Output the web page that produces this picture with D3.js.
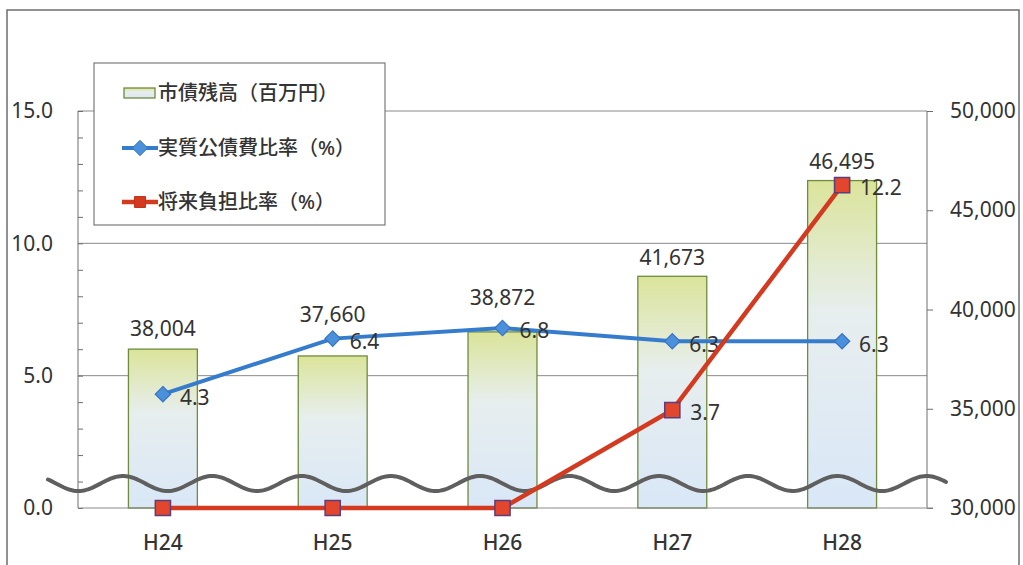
<!DOCTYPE html>
<html>
<head>
<meta charset="utf-8">
<script src="https://cdn.jsdelivr.net/npm/d3@7"></script>
<style>
  html, body { margin: 0; padding: 0; background: #fff; }
  svg text { font-family: "Noto Sans", "Noto Sans CJK JP", sans-serif; fill: #333; }
</style>
</head>
<body>
<svg id="chart" width="1023" height="565"></svg>
<script>
// chart data
const categories = ["H24", "H25", "H26", "H27", "H28"];
const debtBalance = [38004, 37660, 38872, 41673, 46495];       // 市債残高（百万円）
const debtServiceRatio = [4.3, 6.4, 6.8, 6.3, 6.3];             // 実質公債費比率（%）
const futureBurdenRatio = [0, 0, 0, 3.7, 12.2];                 // 将来負担比率（%）
const leftTicks = [0, 5, 10, 15];
const leftMinorTicks = d3.range(0, 16);
const rightTicks = [30000, 35000, 40000, 45000, 50000];
const legendLabels = ["市債残高（百万円）", "実質公債費比率（%）", "将来負担比率（%）"];

// label lift above the bar tops (excel moved them around a bit)
const barLabelLift = [20, 41, 34, 19, 19];

const svg = d3.select("#chart");
const plot = {left: 78, right: 927, top: 111, bottom: 508};

const x = d3.scaleBand()
  .domain(categories)
  .range([plot.left, plot.right])
  .paddingInner(0.594)
  .paddingOuter(0.297);

const yLeft = d3.scaleLinear().domain([0, 15]).range([plot.bottom, plot.top]);
const yRight = d3.scaleLinear().domain([30000, 50000]).range([plot.bottom, plot.top]);

// outer frame
svg.append("rect")
  .attr("x", 7).attr("y", 10)
  .attr("width", 1012).attr("height", 620)
  .attr("fill", "#fff")
  .attr("stroke", "#6e6e6e")
  .attr("stroke-width", 1.5);

const defs = svg.append("defs");
const grad = defs.append("linearGradient")
  .attr("id", "barFill")
  .attr("x1", 0).attr("y1", 0).attr("x2", 0).attr("y2", 1);
grad.append("stop").attr("offset", "0%").attr("stop-color", "#dbe49a");
grad.append("stop").attr("offset", "40%").attr("stop-color", "#e7eeee");
grad.append("stop").attr("offset", "100%").attr("stop-color", "#d9e7f7");

// gridlines
svg.append("g")
  .selectAll("line")
  .data(leftTicks.filter(d => d > 0))
  .join("line")
  .attr("x1", plot.left).attr("x2", plot.right)
  .attr("y1", d => yLeft(d)).attr("y2", d => yLeft(d))
  .attr("stroke", "#8a8a8a")
  .attr("stroke-width", 1);

// left axis: minor ticks inside, labels outside
svg.append("g")
  .attr("transform", `translate(${plot.left},0)`)
  .call(d3.axisRight(yLeft).tickValues(leftMinorTicks).tickSize(5).tickFormat(""))
  .call(g => g.selectAll("line, path").attr("stroke", "#6e6e6e"))
  .call(g => g.select(".domain").attr("d", `M0,${plot.top}V${plot.bottom}`));

svg.append("g")
  .attr("transform", `translate(${plot.left},0)`)
  .call(d3.axisLeft(yLeft).tickValues(leftTicks).tickSize(0).tickPadding(25).tickFormat(d3.format(".1f")))
  .call(g => g.select(".domain").remove())
  .call(g => g.selectAll("text").attr("font-size", 21).attr("fill", "#333"));

// right axis
svg.append("g")
  .attr("transform", `translate(${plot.right},0)`)
  .call(d3.axisRight(yRight).tickValues(rightTicks).tickSize(6).tickPadding(17).tickFormat(d3.format(",")))
  .call(g => g.selectAll("line, path").attr("stroke", "#6e6e6e"))
  .call(g => g.select(".domain").attr("d", `M0,${plot.top}V${plot.bottom}`))
  .call(g => g.selectAll("text").attr("font-size", 21).attr("fill", "#333"));

// bars
const bars = debtBalance.map((v, i) => ({cat: categories[i], v, lift: barLabelLift[i]}));

svg.append("g")
  .selectAll("rect")
  .data(bars)
  .join("rect")
  .attr("x", d => x(d.cat))
  .attr("y", d => yRight(d.v))
  .attr("width", x.bandwidth())
  .attr("height", d => plot.bottom - yRight(d.v))
  .attr("fill", "url(#barFill)")
  .attr("stroke", "#6f8b3c")
  .attr("stroke-width", 1.3);

svg.append("g")
  .selectAll("text")
  .data(bars)
  .join("text")
  .attr("x", d => x(d.cat) + x.bandwidth() / 2)
  .attr("y", d => yRight(d.v) - d.lift)
  .attr("dy", "0.35em")
  .attr("text-anchor", "middle")
  .attr("font-size", 21)
  .text(d => d3.format(",")(d.v));

// bottom axis
svg.append("g")
  .attr("transform", `translate(0,${plot.bottom})`)
  .call(d3.axisBottom(x).tickSize(0).tickPadding(27))
  .call(g => g.select(".domain").attr("stroke", "#8a8a8a").attr("d", `M${plot.left},0H${plot.right + 6}`))
  .call(g => g.selectAll("text").attr("font-size", 21).attr("font-weight", 500).attr("fill", "#333"));

// axis break wave
const wave = {x0: 48, x1: 947, mid: 483.5, amp: 7.5, peak: 123, period: 89.3};
const wavePts = d3.range(wave.x0, wave.x1 + 1, 2).map(px =>
  [px, wave.mid - wave.amp * Math.cos(2 * Math.PI * (px - wave.peak) / wave.period)]);
svg.append("path")
  .attr("d", d3.line()(wavePts))
  .attr("fill", "none")
  .attr("stroke", "#5f5f5f")
  .attr("stroke-width", 4)
  .attr("stroke-linecap", "round");

const cx = c => x(c) + x.bandwidth() / 2;
const diamond = d3.symbol().type(d3.symbolDiamond2).size(150);
const square = d3.symbol().type(d3.symbolSquare).size(230);

// 実質公債費比率
const blue = debtServiceRatio.map((v, i) => ({cat: categories[i], v}));
svg.append("path")
  .datum(blue)
  .attr("d", d3.line().x(d => cx(d.cat)).y(d => yLeft(d.v)))
  .attr("fill", "none")
  .attr("stroke", "#357ccc")
  .attr("stroke-width", 4);
svg.append("g")
  .selectAll("path")
  .data(blue)
  .join("path")
  .attr("d", diamond)
  .attr("transform", d => `translate(${cx(d.cat)},${yLeft(d.v)})`)
  .attr("fill", "#4a90da")
  .attr("stroke", "#3774c4")
  .attr("stroke-width", 1.2);
svg.append("g")
  .selectAll("text")
  .data(blue)
  .join("text")
  .attr("x", d => cx(d.cat) + 17)
  .attr("y", d => yLeft(d.v) + 3)
  .attr("dy", "0.35em")
  .attr("font-size", 21)
  .text(d => d3.format(".1f")(d.v));

// 将来負担比率
const red = futureBurdenRatio.map((v, i) => ({cat: categories[i], v}));
svg.append("path")
  .datum(red)
  .attr("d", d3.line().x(d => cx(d.cat)).y(d => yLeft(d.v)))
  .attr("fill", "none")
  .attr("stroke", "#d33a20")
  .attr("stroke-width", 4.5);
svg.append("g")
  .selectAll("path")
  .data(red)
  .join("path")
  .attr("d", square)
  .attr("transform", d => `translate(${cx(d.cat)},${yLeft(d.v)})`)
  .attr("fill", "#e2462c")
  .attr("stroke", "#5b3f7c")
  .attr("stroke-width", 1.5);
svg.append("g")
  .selectAll("text")
  .data(red.filter(d => d.v > 0))
  .join("text")
  .attr("x", d => cx(d.cat) + 18)
  .attr("y", d => yLeft(d.v) + 3)
  .attr("dy", "0.35em")
  .attr("font-size", 21)
  .text(d => d3.format(".1f")(d.v));

// legend
const legend = svg.append("g");
legend.append("rect")
  .attr("x", 94).attr("y", 63)
  .attr("width", 291).attr("height", 162)
  .attr("fill", "#fff")
  .attr("stroke", "#7a7a7a")
  .attr("stroke-width", 1.2);

const rowY = [93, 148, 202];
legend.append("rect")
  .attr("x", 124).attr("y", rowY[0] - 5)
  .attr("width", 31).attr("height", 10)
  .attr("fill", "url(#barFill)")
  .attr("stroke", "#6f8b3c")
  .attr("stroke-width", 1.3);
legend.append("line")
  .attr("x1", 122).attr("x2", 158)
  .attr("y1", rowY[1]).attr("y2", rowY[1])
  .attr("stroke", "#357ccc").attr("stroke-width", 4);
legend.append("path")
  .attr("d", diamond)
  .attr("transform", `translate(140,${rowY[1]})`)
  .attr("fill", "#4a90da").attr("stroke", "#3774c4");
legend.append("line")
  .attr("x1", 122).attr("x2", 158)
  .attr("y1", rowY[2]).attr("y2", rowY[2])
  .attr("stroke", "#d33a20").attr("stroke-width", 4.5);
legend.append("path")
  .attr("d", d3.symbol().type(d3.symbolSquare).size(120))
  .attr("transform", `translate(140,${rowY[2]})`)
  .attr("fill", "#d33a20").attr("stroke", "#c0321c");

legend.selectAll("text.lbl")
  .data(legendLabels)
  .join("text")
  .attr("class", "lbl")
  .attr("x", 158)
  .attr("y", (d, i) => rowY[i])
  .attr("dy", "0.35em")
  .attr("font-size", 20)
  .attr("font-weight", 500)
  .attr("font-family", "'Noto Sans CJK JP', sans-serif")
  .text(d => d);
</script>
</body>
</html>
